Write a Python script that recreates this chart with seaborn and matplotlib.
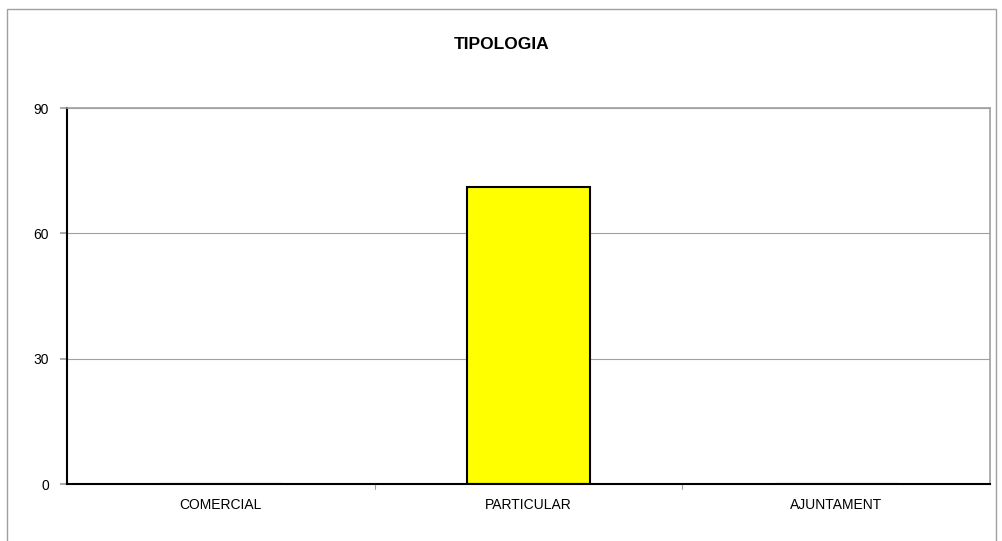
import matplotlib
matplotlib.use("Agg")
import matplotlib.pyplot as plt
import seaborn as sns
import pandas as pd
from matplotlib.patches import Rectangle

categories = ["COMERCIAL", "PARTICULAR", "AJUNTAMENT"]
values = [0, 71, 0]
yticks = [0, 30, 60, 90]

sns.set_theme(style="white")
plt.rcParams['font.family'] = ['Liberation Sans', 'DejaVu Sans']
plt.rcParams['text.color'] = 'black'
plt.rcParams['xtick.color'] = 'black'
plt.rcParams['ytick.color'] = 'black'

fig = plt.figure(figsize=(10.03, 5.41), dpi=100)
W, H = 1003, 541
ax = fig.add_axes([67 / W, 1 - 484 / H, (990 - 67) / W, (484 - 108) / H])

df = pd.DataFrame({"cat": categories, "val": values})
sns.barplot(data=df, x="cat", y="val", ax=ax, color="#FFFF00", width=0.4,
            edgecolor="black", linewidth=1.5, saturation=1)

ax.set_ylim(0, 90)
ax.set_xlim(-0.5, 2.5)
ax.set_yticks(yticks)
ax.set_yticklabels([str(v) for v in yticks], fontsize=10)
ax.yaxis.grid(True, color="#a0a0a0", linewidth=0.8)
ax.set_axisbelow(True)
ax.set_xlabel("")
ax.set_ylabel("")
ax.tick_params(axis="x", length=0, labelsize=10, pad=10, labelcolor="black")
ax.tick_params(axis="y", length=5, color="#a0a0a0", left=True, pad=8,
               labelcolor="black")
ax.set_xticks([0, 1, 2])
ax.set_xticklabels(categories)
for xb in [0.5, 1.5]:
    ax.plot([xb, xb], [0, -1.2], color="#a0a0a0", lw=0.8, clip_on=False,
            transform=ax.transData)
for s in ["left", "bottom"]:
    ax.spines[s].set_color("black")
    ax.spines[s].set_linewidth(1.5)
for s in ["top", "right"]:
    ax.spines[s].set_color("#a0a0a0")
    ax.spines[s].set_linewidth(1.2)

fig.text(0.5, 1 - 45 / H, "TIPOLOGIA", ha="center", va="center",
         fontsize=12.5, fontweight="bold", color="black")

fig.patches.append(Rectangle((7 / W, -0.05), (996 - 7) / W, 1 - 9 / H + 0.05,
                             transform=fig.transFigure, fill=False,
                             edgecolor="#a0a0a0", linewidth=1))

fig.savefig("out.png", dpi=100)
